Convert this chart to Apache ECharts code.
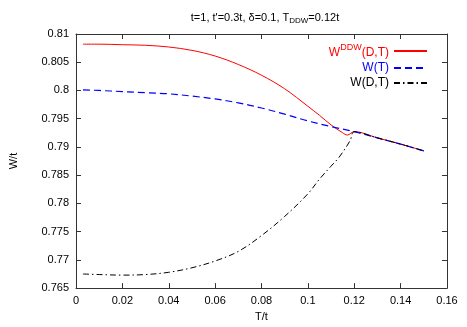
<!DOCTYPE html>
<html>
<head>
<meta charset="utf-8">
<script src="https://cdn.jsdelivr.net/npm/echarts@6/dist/echarts.min.js"></script>
<style>html,body{margin:0;padding:0;background:#fff;}#c{width:467px;height:327px;}</style>
</head>
<body>
<div id="c"></div>
<script>
// Data
var ddwT = [0.003, 0.01, 0.02, 0.03, 0.04, 0.05, 0.06, 0.07, 0.08, 0.09, 0.1, 0.105, 0.11, 0.115, 0.117, 0.12, 0.13, 0.14, 0.15];
var ddwW = [0.8082, 0.8082, 0.8081, 0.8080, 0.8077, 0.8071, 0.8061, 0.8046, 0.8027, 0.8003, 0.7972, 0.7956, 0.7939, 0.7925, 0.7921, 0.7927, 0.7916, 0.7905, 0.7893];
var wtT = [0.003, 0.01, 0.02, 0.03, 0.04, 0.05, 0.06, 0.07, 0.08, 0.09, 0.1, 0.11, 0.12, 0.13, 0.14, 0.15];
var wtW = [0.8001, 0.8000, 0.7998, 0.7996, 0.7994, 0.7990, 0.7985, 0.7978, 0.7969, 0.7958, 0.7946, 0.7936, 0.7927, 0.7916, 0.7905, 0.7893];
var wdtT = [0.003, 0.01, 0.02, 0.03, 0.04, 0.05, 0.06, 0.07, 0.08, 0.09, 0.1, 0.105, 0.11, 0.1135, 0.1182, 0.12, 0.13, 0.14, 0.15];
var wdtW = [0.7675, 0.7674, 0.7673, 0.7674, 0.7678, 0.7686, 0.7698, 0.7715, 0.7743, 0.7777, 0.7817, 0.7843, 0.7866, 0.7882, 0.7911, 0.7927, 0.7916, 0.7905, 0.7893];
var seriesNames = ['W^DDW(D,T)', 'W(T)', 'W(D,T)'];
var xTicks = {min: 0, max: 0.16, interval: 0.02};
var yTicks = {min: 0.765, max: 0.81, interval: 0.005};

function pairs(xs, ys) { return xs.map(function (x, i) { return [x, ys[i]]; }); }
function fmt(v) { return String(parseFloat(v.toFixed(4))); }

var FONT = 'Liberation Sans';
var axisCol = '#333';
var chart = echarts.init(document.getElementById('c'), null, {renderer: 'canvas'});
var baseAxis = {
  axisLine: {show: true, onZero: false, lineStyle: {color: axisCol, width: 1}},
  axisTick: {show: true, inside: true, length: 5, lineStyle: {color: axisCol}},
  splitLine: {show: false}
};
chart.setOption({
  animation: false,
  backgroundColor: '#fff',
  title: {
    text: "t=1, t'=0.3t, δ=0.1, T{sub|DDW}=0.12t",
    left: 260, top: 6, textAlign: 'center',
    textStyle: {
      fontFamily: FONT, fontSize: 11, fontWeight: 'normal', color: '#000',
      rich: {sub: {fontFamily: FONT, fontSize: 8, color: '#000', verticalAlign: 'bottom', padding: [6, 0, 0, 0]}}
    }
  },
  grid: {left: 73, right: 20, top: 34, bottom: 35},
  legend: {
    orient: 'vertical', right: 34, top: 38, align: 'right',
    itemWidth: 33, itemHeight: 10, itemGap: 3,
    itemStyle: {opacity: 0, borderWidth: 0},
    data: [
      {name: seriesNames[0], textStyle: {color: '#ff0000'}},
      {name: seriesNames[1], textStyle: {color: '#0000ff'}},
      {name: seriesNames[2], textStyle: {color: '#000'}}
    ],
    formatter: function (n) {
      if (n === seriesNames[0]) return '{b|W}{sup|DDW}{b|(D,T)}';
      return n;
    },
    textStyle: {
      fontFamily: FONT, fontSize: 12,
      rich: {
        b: {fontFamily: FONT, fontSize: 12, color: '#ff0000', padding: [4, 0, 0, 0]},
        sup: {fontFamily: FONT, fontSize: 9, color: '#ff0000', verticalAlign: 'top', padding: [0, 0, 4, 0]}
      }
    }
  },
  xAxis: [
    Object.assign({}, baseAxis, {
      type: 'value', min: xTicks.min, max: xTicks.max, interval: xTicks.interval,
      name: 'T/t', nameLocation: 'middle', nameGap: 22,
      nameTextStyle: {fontFamily: FONT, fontSize: 11, color: '#000'},
      axisLabel: {fontFamily: FONT, fontSize: 11, color: '#000', margin: 7, formatter: fmt}
    }),
    Object.assign({}, baseAxis, {
      type: 'value', position: 'top', min: xTicks.min, max: xTicks.max, interval: xTicks.interval,
      axisLabel: {show: false}
    })
  ],
  yAxis: [
    Object.assign({}, baseAxis, {
      type: 'value', min: yTicks.min, max: yTicks.max, interval: yTicks.interval,
      name: 'W/t', nameLocation: 'middle', nameGap: 57, nameRotate: 90,
      nameTextStyle: {fontFamily: FONT, fontSize: 11, color: '#000'},
      axisLabel: {fontFamily: FONT, fontSize: 11, color: '#000', margin: 7, formatter: fmt}
    }),
    Object.assign({}, baseAxis, {
      type: 'value', position: 'right', min: yTicks.min, max: yTicks.max, interval: yTicks.interval,
      axisLabel: {show: false}
    })
  ],
  series: [
    {
      name: seriesNames[0], type: 'line', data: pairs(ddwT, ddwW),
      showSymbol: false, symbol: 'none', smooth: 0.35,
      itemStyle: {color: '#ff0000'},
      lineStyle: {color: '#ff0000', width: 1, type: 'solid'}
    },
    {
      name: seriesNames[1], type: 'line', data: pairs(wtT, wtW),
      showSymbol: false, symbol: 'none', smooth: 0.35,
      itemStyle: {color: '#0000ff'},
      lineStyle: {color: '#0000ff', width: 1.2, type: [7, 4]}
    },
    {
      name: seriesNames[2], type: 'line', data: pairs(wdtT, wdtW),
      showSymbol: false, symbol: 'none', smooth: 0.35,
      itemStyle: {color: '#000'},
      lineStyle: {color: '#000', width: 1, type: [6, 3, 1.5, 3]}
    }
  ]
});
</script>
</body>
</html>
